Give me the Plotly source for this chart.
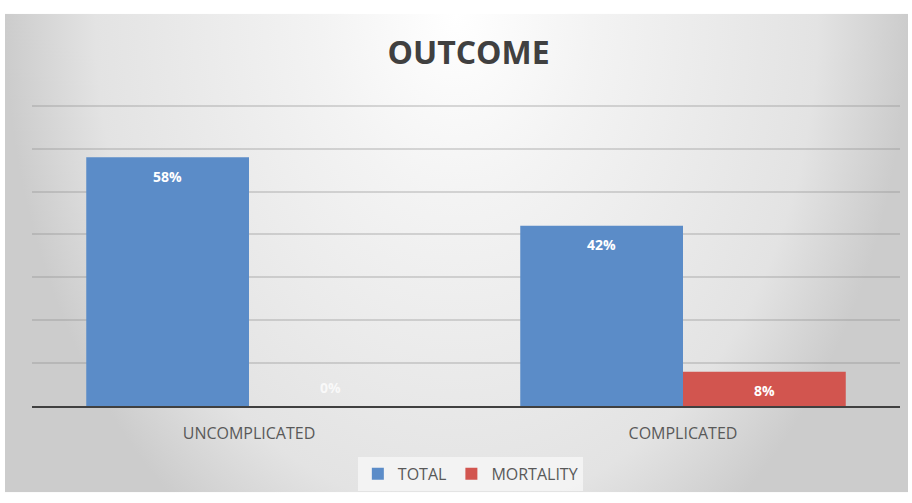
import plotly.graph_objects as go

# Outcome percentages per category
categories = ["UNCOMPLICATED", "COMPLICATED"]
total_pct = [58, 42]
mortality_pct = [0, 8]

BLUE = "#5b8cc8"
RED = "#d2554f"
TEXT_GRAY = "#595959"

W, H = 912, 503
MARGIN = dict(l=32, r=12, t=104, b=91)
BARGAP = 0.25
plot_w = W - MARGIN["l"] - MARGIN["r"]
plot_h = H - MARGIN["t"] - MARGIN["b"]

# soft backdrop: bright behind the title, greyer toward the left and right edges
backdrop_svg = (
    "data:image/svg+xml;utf8,"
    "<svg xmlns='http://www.w3.org/2000/svg' width='903' height='488' preserveAspectRatio='none'>"
    "<defs><radialGradient id='g' gradientUnits='objectBoundingBox' cx='0.5' cy='0' r='0.5' "
    "gradientTransform='translate(0.5 0) scale(1 2.6) translate(-0.5 0)'>"
    "<stop offset='0' stop-color='%23ffffff'/>"
    "<stop offset='0.3' stop-color='%23f3f3f3'/>"
    "<stop offset='0.8' stop-color='%23e3e3e3'/>"
    "<stop offset='1' stop-color='%23cccccc'/>"
    "</radialGradient></defs>"
    "<rect width='903' height='488' fill='url(%23g)'/></svg>"
)

fig = go.Figure()
fig.add_trace(go.Bar(name="TOTAL", x=categories, y=total_pct,
                     marker_color=BLUE, marker_line_width=0))
fig.add_trace(go.Bar(name="MORTALITY", x=categories, y=mortality_pct,
                     marker_color=RED, marker_line_width=0))

# value labels just inside the top of each bar (above the axis for a zero bar)
bar_px = plot_w / len(categories) * (1 - BARGAP) / 2
annotations = []
for series, xshift in ((total_pct, -bar_px / 2), (mortality_pct, bar_px / 2)):
    for cat, val in zip(categories, series):
        annotations.append(dict(
            x=cat, y=val, xref="x", yref="y", text=f"<b>{val}%</b>",
            showarrow=False, xshift=xshift, yshift=19 if val == 0 else -19,
            font=dict(family="Open Sans", size=14,
                      color="rgba(255,255,255,0.75)" if val == 0 else "white"),
            xanchor="center", yanchor="middle",
        ))

fig.update_layout(
    width=W, height=H,
    margin=MARGIN,
    paper_bgcolor="white",
    plot_bgcolor="rgba(0,0,0,0)",
    barmode="group", bargap=BARGAP, bargroupgap=0,
    title=dict(text="<b>OUTCOME</b>", xref="paper", x=0.503, xanchor="center",
               y=0.895, yanchor="middle",
               font=dict(family="Open Sans", size=32, color="#404040")),
    font=dict(family="Open Sans", color=TEXT_GRAY),
    showlegend=True,
    legend=dict(orientation="h", x=0.505, xanchor="center", y=-0.225, yanchor="middle",
                font=dict(size=16, color=TEXT_GRAY), bgcolor="rgba(246,246,246,0.8)",
                itemwidth=30, traceorder="normal"),
    annotations=annotations,
    images=[dict(source=backdrop_svg, xref="paper", yref="paper",
                 x=-27 / plot_w, y=1 + (MARGIN["t"] - 12) / plot_h,
                 sizex=903 / plot_w, sizey=488 / plot_h, sizing="stretch",
                 xanchor="left", yanchor="top", layer="below")],
)
fig.update_xaxes(showgrid=False, showline=True, linecolor="#404040", linewidth=2,
                 ticks="", ticklabelstandoff=12, tickfont=dict(size=16, color=TEXT_GRAY))
fig.update_yaxes(range=[0, 70.4], dtick=10, showgrid=True, gridcolor="rgba(140,140,140,0.32)",
                 gridwidth=1.5, showticklabels=False, zeroline=False, ticks="")

fig.write_html("out.html")
